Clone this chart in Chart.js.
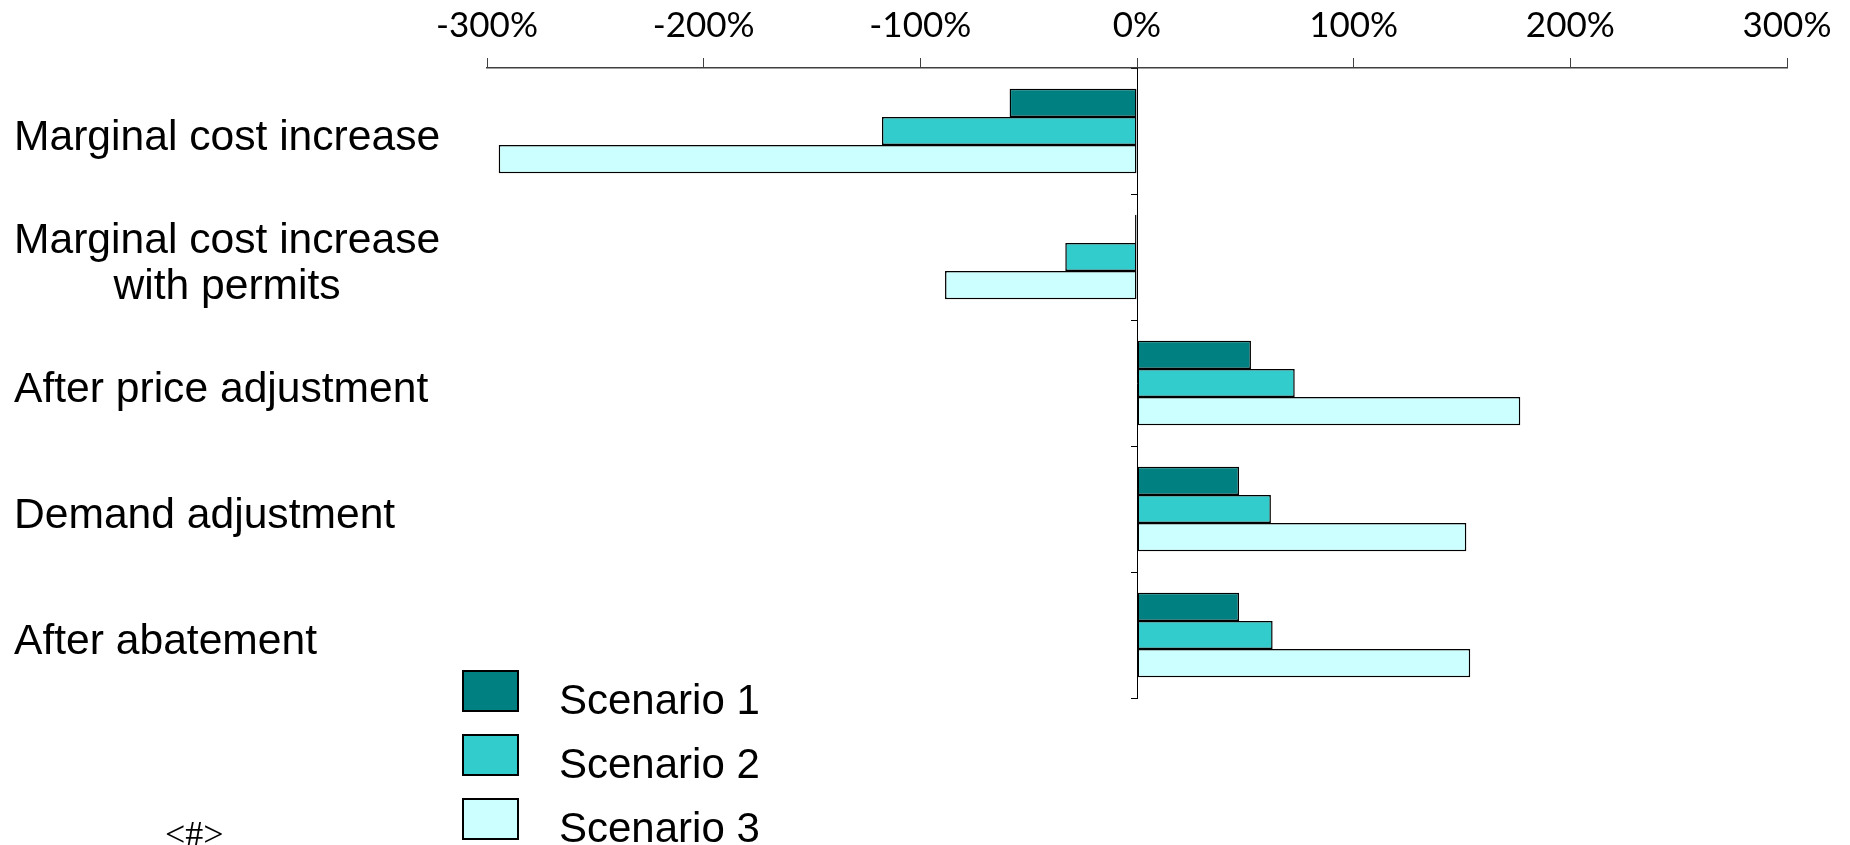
<!DOCTYPE html>
<html>
<head>
<meta charset="utf-8">
<script src="https://cdn.jsdelivr.net/npm/chart.js@4"></script>
<style>
  html, body { margin: 0; padding: 0; background: #fff; }
  canvas { display: block; }
</style>
</head>
<body>
<canvas id="chart" width="1850" height="845"></canvas>
<script>
// Categories (multi-line entries are stacked and centred on each other)
const categories = [
  ["Marginal cost increase"],
  ["Marginal cost increase", "with permits"],
  ["After price adjustment"],
  ["Demand adjustment"],
  ["After abatement"]
];
const seriesNames = ["Scenario 1", "Scenario 2", "Scenario 3"];

// Percentage change per step, one array per scenario
const scenario1 = [-58.8, -0.9, 52.6, 47.1, 47.1];
const scenario2 = [-117.7, -33.1, 72.8, 61.8, 62.6];
const scenario3 = [-294.6, -88.6, 176.9, 152.0, 153.8];

// Axis ticks (percent)
const tickValues = [-300, -200, -100, 0, 100, 200, 300];

const seriesFills = ["#008080", "#33CCCC", "#CCFFFF"];
const seriesData = [scenario1, scenario2, scenario3];

const LABEL_FONT = '"Liberation Sans", Arial, sans-serif';

// White page background
const background = {
  id: 'background',
  beforeDraw(chart) {
    const ctx = chart.ctx;
    ctx.save();
    ctx.fillStyle = '#fff';
    ctx.fillRect(0, 0, chart.width, chart.height);
    ctx.restore();
  }
};

// Category names on the left, the legend below the plot and the page marker
const sideText = {
  id: 'sideText',
  afterDraw(chart) {
    const ctx = chart.ctx;
    const yScale = chart.scales.y;
    ctx.save();
    ctx.fillStyle = '#000';
    ctx.textBaseline = 'alphabetic';
    ctx.textAlign = 'left';

    // category names
    ctx.font = '42.6px ' + LABEL_FONT;
    const lineGap = 46.5;
    categories.forEach((lines, i) => {
      const mid = yScale.getPixelForValue(i) + 4;
      const widths = lines.map(l => ctx.measureText(l).width);
      const maxW = Math.max(...widths);
      lines.forEach((line, k) => {
        const capMid = mid + (k - (lines.length - 1) / 2) * lineGap;
        ctx.fillText(line, 14 + (maxW - widths[k]) / 2, capMid + 15);
      });
    });

    // legend
    ctx.font = '42px ' + LABEL_FONT;
    chart.data.datasets.forEach((ds, i) => {
      const top = 670 + i * 64;
      ctx.fillStyle = ds.backgroundColor;
      ctx.fillRect(462, top, 57, 42);
      ctx.lineWidth = 2;
      ctx.strokeStyle = '#000';
      ctx.strokeRect(463, top + 1, 55, 40);
      ctx.fillStyle = '#000';
      ctx.fillText(ds.label, 559, top + 44.3);
    });

    // slide number placeholder
    ctx.font = '36px "Liberation Serif", "Times New Roman", serif';
    ctx.fillText('<#>', 165, 846);
    ctx.restore();
  }
};

new Chart(document.getElementById('chart'), {
  type: 'bar',
  data: {
    labels: categories,
    datasets: seriesNames.map((name, i) => ({
      label: name,
      data: seriesData[i],
      backgroundColor: seriesFills[i],
      borderColor: '#000',
      borderWidth: 1.5,
      borderSkipped: false,
      categoryPercentage: 0.669,
      barPercentage: 1
    }))
  },
  options: {
    indexAxis: 'y',
    responsive: false,
    animation: false,
    events: [],
    layout: { padding: { left: 487, right: 63, top: -6, bottom: 147 } },
    plugins: {
      legend: { display: false },
      tooltip: { enabled: false }
    },
    scales: {
      x: {
        position: 'top',
        min: tickValues[0],
        max: tickValues[tickValues.length - 1],
        afterBuildTicks(scale) {
          scale.ticks = tickValues.map(v => ({ value: v }));
        },
        ticks: {
          callback: v => v + '%',
          font: { family: 'Lato', size: 35 },
          color: '#000',
          padding: 11,
          maxRotation: 0,
          autoSkip: false
        },
        grid: { drawOnChartArea: false, tickLength: 10, color: '#404040', lineWidth: 1 },
        border: { color: '#404040', width: 1.5 }
      },
      y: {
        position: { x: 0 },
        ticks: { display: false },
        grid: { drawOnChartArea: false, tickLength: 6, color: '#000', lineWidth: 1 },
        border: { color: '#000', width: 1 }
      }
    }
  },
  plugins: [background, sideText]
});
</script>
</body>
</html>
